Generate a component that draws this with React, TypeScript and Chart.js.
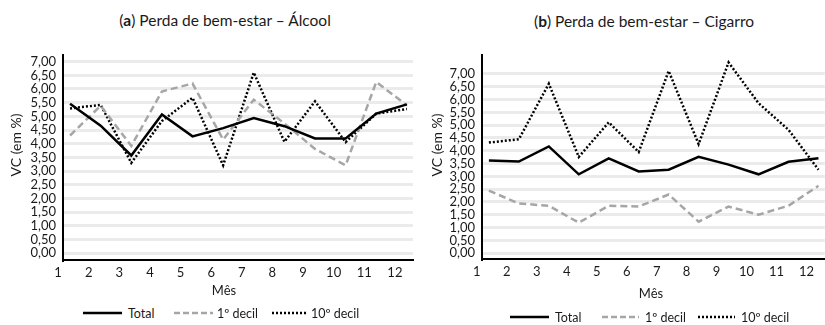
import React, { useEffect, useRef } from "react";
import { Chart, registerables } from "chart.js";

Chart.register(...registerables);

// Months on the x axis and their printed labels
const months = [1, 2, 3, 4, 5, 6, 7, 8, 9, 10, 11, 12];
const monthLabels = ["1", "2", "3", "4", "5", "6", "7", "8", "9", "10", "11", "12"];

// Y axis ticks (VC in %) and their labels with a decimal comma
const yTickValues = [0, 0.5, 1, 1.5, 2, 2.5, 3, 3.5, 4, 4.5, 5, 5.5, 6, 6.5, 7];
const yTickLabels = [
  "0,00", "0,50", "1,00", "1,50", "2,00", "2,50", "3,00", "3,50",
  "4,00", "4,50", "5,00", "5,50", "6,00", "6,50", "7,00",
];

// Series names shown in the legends
const seriesNames = ["Total", "1º decil", "10º decil"];

// (a) Álcool
const alcoolTotal = [5.46, 4.66, 3.57, 5.07, 4.27, 4.57, 4.94, 4.64, 4.19, 4.19, 5.1, 5.44];
const alcoolDecil1 = [4.3, 5.39, 3.92, 5.91, 6.2, 4.15, 5.61, 4.74, 3.81, 3.21, 6.26, 5.4];
const alcoolDecil10 = [5.29, 5.42, 3.3, 4.83, 5.68, 3.21, 6.6, 4.07, 5.55, 4.06, 5.1, 5.27];

// (b) Cigarro
const cigarroTotal = [3.62, 3.58, 4.17, 3.08, 3.7, 3.19, 3.26, 3.76, 3.46, 3.08, 3.57, 3.71];
const cigarroDecil1 = [2.44, 1.94, 1.85, 1.19, 1.85, 1.82, 2.29, 1.23, 1.82, 1.5, 1.85, 2.63];
const cigarroDecil10 = [4.32, 4.45, 6.62, 3.76, 5.11, 3.95, 7.12, 4.26, 7.45, 5.86, 4.82, 3.26];

const FONT = "Lato, 'Open Sans', 'DejaVu Sans', sans-serif";
const GRAY = "#a6a6a6";
const INK = "#1a1a1a";

type PanelProps = {
  total: number[];
  decil1: number[];
  decil10: number[];
  yMin: number;
  yMax: number;
  xMin: number;
  xMax: number;
  left: number;
  top: number;
  width: number;
  height: number;
  padRight: number;
};

function Panel(p: PanelProps) {
  const ref = useRef<HTMLCanvasElement | null>(null);

  useEffect(() => {
    if (!ref.current) return;
    const toPoints = (arr: number[]) => months.map((m, i) => ({ x: m, y: arr[i] }));
    const chart = new Chart(ref.current, {
      type: "line",
      data: {
        datasets: [
          {
            label: seriesNames[0],
            data: toPoints(p.total),
            borderColor: "#000",
            borderWidth: 2.5,
          },
          {
            label: seriesNames[1],
            data: toPoints(p.decil1),
            borderColor: GRAY,
            borderWidth: 2.5,
            borderDash: [7, 4],
          },
          {
            label: seriesNames[2],
            data: toPoints(p.decil10),
            borderColor: "#000",
            borderWidth: 2.5,
            borderDash: [2, 2],
          },
        ],
      },
      options: {
        animation: false,
        responsive: false,
        maintainAspectRatio: false,
        layout: { padding: { top: 7, right: p.padRight, left: 0, bottom: 0 } },
        plugins: {
          legend: { display: false },
          title: { display: false },
          tooltip: { enabled: false },
        },
        elements: {
          point: { radius: 0 },
          line: { tension: 0, borderJoinStyle: "miter", borderCapStyle: "butt" },
        },
        scales: {
          x: {
            type: "linear",
            min: p.xMin,
            max: p.xMax,
            afterBuildTicks: (s: any) => {
              s.ticks = months.map((v) => ({ value: v }));
            },
            afterFit: (s: any) => {
              s.height = 25;
            },
            grid: { display: false, drawTicks: false },
            border: { display: true, color: "#000", width: 2 },
            ticks: {
              autoSkip: false,
              maxRotation: 0,
              labelOffset: -12,
              padding: 5,
              color: INK,
              font: { family: FONT, size: 13 },
              callback: (_v: any, i: number) => monthLabels[i],
            },
          },
          y: {
            type: "linear",
            min: p.yMin,
            max: p.yMax,
            afterBuildTicks: (s: any) => {
              s.ticks = yTickValues.map((v) => ({ value: v }));
            },
            afterFit: (s: any) => {
              s.width = 62;
            },
            grid: { color: "#ebebeb", lineWidth: 3, drawTicks: false },
            border: { display: true, color: "#000", width: 2 },
            ticks: {
              autoSkip: false,
              padding: 7,
              color: INK,
              font: { family: FONT, size: 13 },
              callback: (_v: any, i: number) => yTickLabels[i],
            },
          },
        },
      },
    });
    return () => chart.destroy();
  }, []);

  return (
    <canvas
      ref={ref}
      width={p.width}
      height={p.height}
      style={{ position: "absolute", left: p.left, top: p.top, width: p.width, height: p.height, display: "block" }}
    />
  );
}

function LegendItem({
  x,
  w,
  textX,
  y,
  color,
  dash,
  label,
}: {
  x: number;
  w: number;
  textX: number;
  y: number;
  color: string;
  dash?: string;
  label: string;
}) {
  return (
    <>
      <svg width={w} height={6} style={{ position: "absolute", left: x, top: y - 3 }}>
        <line x1={0} y1={3} x2={w} y2={3} stroke={color} strokeWidth={2.5} strokeDasharray={dash} />
      </svg>
      <div
        style={{
          position: "absolute",
          left: textX,
          top: y,
          transform: "translateY(-50%)",
          fontFamily: FONT,
          fontSize: 12.5,
          color: INK,
          whiteSpace: "nowrap",
        }}
      >
        {label}
      </div>
    </>
  );
}

function Legend({ xs, ws, texts, y }: { xs: number[]; ws: number[]; texts: number[]; y: number }) {
  return (
    <>
      <LegendItem x={xs[0]} w={ws[0]} textX={texts[0]} y={y} color="#000" label={seriesNames[0]} />
      <LegendItem x={xs[1]} w={ws[1]} textX={texts[1]} y={y} color={GRAY} dash="6 3" label={seriesNames[1]} />
      <LegendItem x={xs[2]} w={ws[2]} textX={texts[2]} y={y} color="#000" dash="2 2" label={seriesNames[2]} />
    </>
  );
}

function Text({
  x,
  y,
  children,
  size = 13,
}: {
  x: number;
  y: number;
  children: React.ReactNode;
  size?: number;
}) {
  return (
    <div
      style={{
        position: "absolute",
        left: x,
        top: y,
        transform: "translate(-50%, -50%)",
        fontFamily: FONT,
        fontSize: size,
        color: INK,
        whiteSpace: "nowrap",
      }}
    >
      {children}
    </div>
  );
}

export default function App() {
  return (
    <div
      style={{
        position: "absolute",
        left: 0,
        top: 0,
        width: 825,
        height: 325,
        overflow: "hidden",
        background: "#fff",
      }}
    >
      <Text x={225} y={20} size={15.5}>
        (<b>a</b>) Perda de bem-estar – Álcool
      </Text>
      <Text x={644} y={21} size={15.5}>
        (<b>b</b>) Perda de bem-estar – Cigarro
      </Text>

      <Panel
        total={alcoolTotal}
        decil1={alcoolDecil1}
        decil10={alcoolDecil10}
        yMin={-0.25}
        yMax={7.25}
        xMin={0.77}
        xMax={12.2}
        left={1}
        top={40}
        width={420}
        height={245}
        padRight={8}
      />
      <Panel
        total={cigarroTotal}
        decil1={cigarroDecil1}
        decil10={cigarroDecil10}
        yMin={-0.23}
        yMax={7.75}
        xMin={0.77}
        xMax={12.21}
        left={420}
        top={40}
        width={411}
        height={244}
        padRight={0}
      />

      <Text x={15} y={145} size={14}>
        <span style={{ display: "inline-block", transform: "rotate(-90deg)" }}>VC (em %)</span>
      </Text>
      <Text x={436} y={145} size={14}>
        <span style={{ display: "inline-block", transform: "rotate(-90deg)" }}>VC (em %)</span>
      </Text>
      <Text x={224} y={290}>
        Mês
      </Text>
      <Text x={651} y={293}>
        Mês
      </Text>

      <Legend xs={[83, 174, 272]} ws={[39, 39, 34]} texts={[128, 217, 311]} y={313} />
      <Legend xs={[510, 602, 698]} ws={[39, 37, 37]} texts={[555, 645, 741]} y={317} />
    </div>
  );
}
